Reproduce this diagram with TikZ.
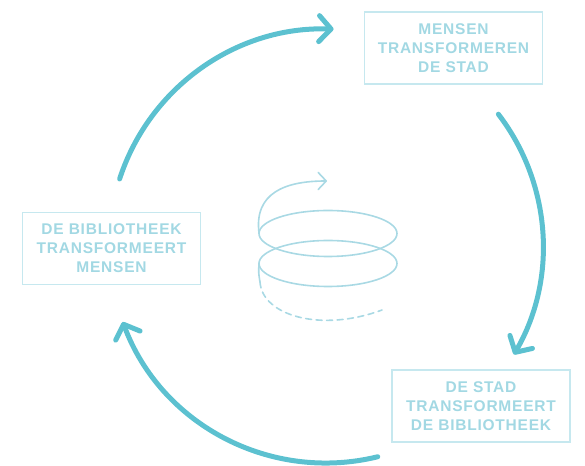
\documentclass[tikz,border=0pt]{standalone}
\usepackage{fontspec}
\newfontfamily\lblfont{Liberation Sans}[LetterSpace=5]
\usetikzlibrary{arrows.meta,calc}
\definecolor{arcc}{HTML}{5CC1D0}
\definecolor{txtc}{HTML}{A2D8E3}
\definecolor{boxc}{HTML}{C6E8EF}
\definecolor{spic}{HTML}{A9D9E4}
\tikzset{
  lblbox/.style={draw=boxc, line width=1.4pt, minimum width=178pt, minimum height=72pt,
    align=center, text=txtc, inner sep=0pt,
    font=\fontsize{15.5}{19}\selectfont\lblfont\bfseries},
  bigarc/.style={draw=arcc, line width=5pt, line cap=round,
    -{Straight Barb[length=12pt,width=26pt,round]}},
  spiral/.style={draw=spic, line width=1.6pt, line cap=round},
}
\begin{document}
\begin{tikzpicture}[x=1pt,y=1pt]
\useasboundingbox (0,0) rectangle (585,465);
% boxes
\node[lblbox] (tr) at (453.5,417) {MENSEN\\TRANSFORMEREN\\DE STAD};
\node[lblbox] (lf) at (111.5,216.5) {DE BIBLIOTHEEK\\TRANSFORMEERT\\MENSEN};
\node[lblbox] (br) at (481,59) {DE STAD\\TRANSFORMEERT\\DE BIBLIOTHEEK};
% big cycle
\coordinate (C) at (326,219);
\coordinate (a1) at ($(C)+(162:217pt)$);
\coordinate (a2) at ($(C)+(37.4:217pt)$);
\coordinate (a3) at ($(C)+(-76.2:217pt)$);
\draw[bigarc] (a1) arc[start angle=162, end angle=88, radius=217pt];
\draw[bigarc] (a2) arc[start angle=37.4, end angle=-30, radius=217pt];
\draw[bigarc] (a3) arc[start angle=-76.2, end angle=-159.5, radius=217pt];
% spiral
\coordinate (e1) at (328,231.5);
\coordinate (e2) at (328,201.5);
\draw[spiral] (e1) ellipse[x radius=69pt, y radius=23pt];
\draw[spiral] (e2) ellipse[x radius=69pt, y radius=23pt];
\coordinate (sL1) at (259,232);
\coordinate (sTip) at (327,284);
\draw[spiral, -{Straight Barb[length=8pt,width=17pt,round]}]
  (sL1) .. controls (254,272) and (285,284) .. (sTip);
\coordinate (sL2) at (259,202);
\coordinate (sL3) at (260,183);
\coordinate (sEnd) at (382,155);
\draw[spiral] (sL2) .. controls (258.5,192) .. (sL3);
\draw[spiral, dash pattern=on 6pt off 4.5pt]
  (sL3) .. controls (262,150) and (320,132) .. (sEnd);
\end{tikzpicture}
\end{document}
